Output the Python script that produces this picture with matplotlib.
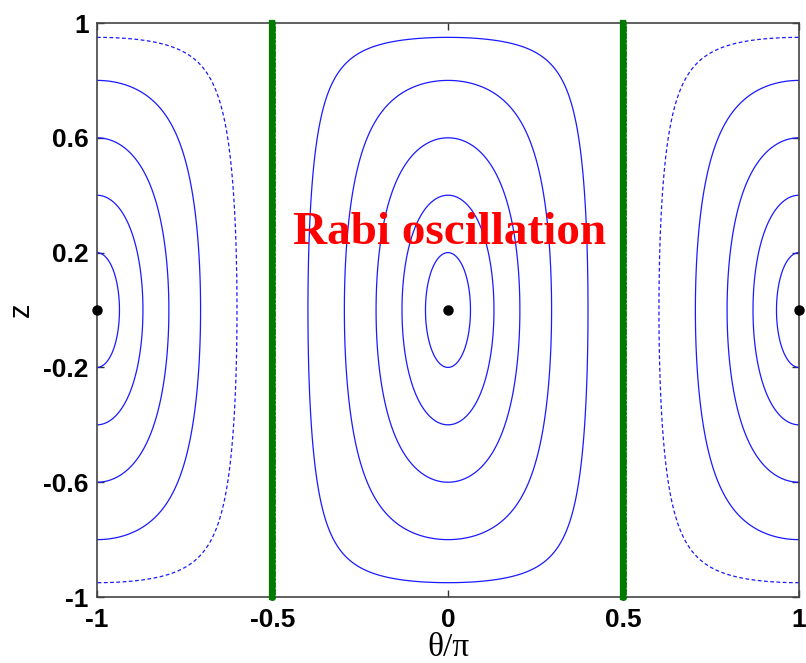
import numpy as np
import matplotlib
matplotlib.use("Agg")
import matplotlib.pyplot as plt

# Turning points of the orbits on the z axis (around theta=0 and theta=+-pi)
orbit_z0 = [0.2, 0.4, 0.6, 0.8, 0.95]
# Separatrix-like fixed lines and fixed points
fixed_lines_theta = [-0.5, 0.5]
fixed_points_theta = [-1.0, 0.0, 1.0]
fixed_points_z = [0.0, 0.0, 0.0]

xticks = [-1, -0.5, 0, 0.5, 1]
xticklabels = ["-1", "-0.5", "0", "0.5", "1"]
yticks = [-1, -0.6, -0.2, 0.2, 0.6, 1]
yticklabels = ["-1", "-0.6", "-0.2", "0.2", "0.6", "1"]

fig = plt.figure(figsize=(8.06, 6.63), dpi=100)
ax = fig.add_axes([0.1203, 0.0995, 0.8710, 0.8658])

# Energy landscape H = sqrt(1 - z^2) cos(pi * theta)
th = np.linspace(-1, 1, 1201)
zz = np.linspace(-1, 1, 1201)
TH, ZZ = np.meshgrid(th, zz)
H = np.sqrt(np.clip(1 - ZZ**2, 0, None)) * np.cos(np.pi * TH)

e = np.sqrt(1 - np.array(orbit_z0) ** 2)
neg_levels = sorted(-e)
pos_levels = sorted(e)
levels = neg_levels + pos_levels
styles = []
for lv in levels:
    if lv < 0 and abs(lv) < 0.4:
        styles.append((0, (3, 2)))
    else:
        styles.append("solid")
ax.contour(TH, ZZ, H, levels=levels, colors="#1a1aff",
           linewidths=0.9, linestyles=styles)

# Fixed lines at theta = +-pi/2
zline = np.linspace(-1, 1, 160)
for t in fixed_lines_theta:
    ax.plot(np.full_like(zline, t), zline, color="#007a00", lw=4.5,
            marker=".", ms=8, zorder=3, clip_on=False)

ax.plot(fixed_points_theta, fixed_points_z, "o", color="black", ms=6.5,
        zorder=4, clip_on=False)

ax.text(0.005, 0.27, "Rabi oscillation", color="red", fontsize=34,
        fontweight="bold", family="Liberation Serif", ha="center", va="center")

ax.set_xlim(-1, 1)
ax.set_ylim(-1, 1)
ax.set_xticks(xticks)
ax.set_xticklabels(xticklabels)
ax.set_yticks(yticks)
ax.set_yticklabels(yticklabels)
ax.tick_params(direction="in", top=True, right=True, length=5, width=1,
               labelsize=19, pad=6, color="#333333")
ax.tick_params(axis="x", pad=8)
for lab in ax.get_xticklabels() + ax.get_yticklabels():
    lab.set_fontweight("bold")
    lab.set_family("Liberation Sans")
for sp in ax.spines.values():
    sp.set_color("#444444")
    sp.set_linewidth(1.2)

ax.set_xlabel("θ/π", fontsize=24, family="Liberation Serif", labelpad=0)
ax.set_ylabel("z", fontsize=21, family="Liberation Sans", labelpad=6)

fig.savefig("out.png", dpi=100)
